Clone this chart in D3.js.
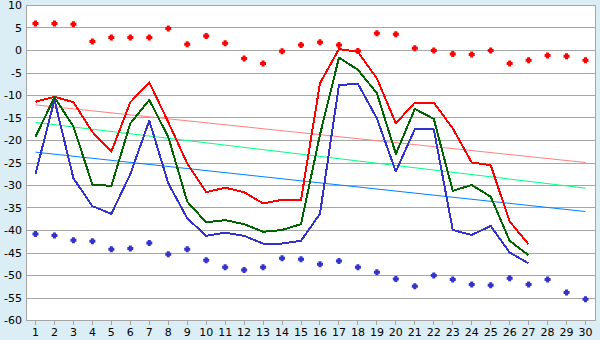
<!DOCTYPE html>
<html>
<head>
<meta charset="utf-8">
<script src="https://cdn.jsdelivr.net/npm/d3@7"></script>
<style>
  html, body { margin: 0; padding: 0; background: #dbeef5; }
  svg { display: block; }
  text { font-family: "DejaVu Sans", Verdana, sans-serif; font-size: 11px; fill: #000; }
</style>
</head>
<body>
<svg id="chart" width="600" height="340"></svg>
<script>
// Days of the month
const categories = d3.range(1, 31).map(String);

// Daily maximum markers (top row) and minimum markers (bottom row)
const maxMarks = [5.9, 5.9, 5.7, 1.9, 2.8, 2.8, 2.8, 4.8, 1.3, 3.1,
                  1.5, -1.9, -3.0, -0.3, 1.1, 1.7, 1.1, -0.2, 3.7, 3.5,
                  0.4, -0.1, -0.9, -1.0, -0.1, -3.0, -2.3, -1.2, -1.4, -2.3];
const minMarks = [-40.9, -41.2, -42.3, -42.5, -44.3, -44.1, -42.9, -45.4, -44.3, -46.7,
                  -48.3, -48.9, -48.3, -46.3, -46.5, -47.6, -46.9, -48.3, -49.4, -50.9,
                  -52.5, -50.1, -51.0, -52.1, -52.3, -50.7, -52.1, -51.0, -53.9, -55.4];

// Measured series (days 1–27)
const redSeries = [-11.5, -10.4, -11.6, -18.2, -22.6, -11.6, -7.2, -16.0, -25.2, -31.6,
                   -30.6, -31.6, -34.1, -33.3, -33.3, -7.4, 0.2, -0.4, -6.3, -16.3,
                   -11.7, -11.7, -17.4, -25.0, -25.6, -38.1, -43.2];
const greenSeries = [-19.3, -10.5, -17.0, -29.9, -30.2, -16.3, -11.1, -19.3, -33.7, -38.3,
                     -37.8, -38.7, -40.4, -40.0, -38.7, -18.8, -1.7, -4.4, -9.6, -23.1,
                     -13.1, -15.3, -31.3, -30.0, -32.6, -42.4, -45.6];
const blueSeries = [-27.6, -11.1, -28.5, -34.7, -36.4, -27.6, -15.7, -29.6, -37.4, -41.3,
                    -40.6, -41.3, -43.0, -43.0, -42.4, -36.4, -7.8, -7.5, -15.2, -27.0,
                    -17.6, -17.6, -40.0, -41.1, -39.1, -45.0, -47.4];

// Trend lines: value on day 1 and on day 30
const trendDays = ["1", "30"];
const redTrend = [-12.2, -25.0];
const greenTrend = [-16.1, -30.7];
const blueTrend = [-22.7, -35.9];

// Y axis
const yTicks = [10, 5, 0, -5, -10, -15, -20, -25, -30, -35, -40, -45, -50, -55, -60];
const yTickLabels = ["10", "5", "0", "-5", "-10", "-15", "-20", "-25", "-30", "-35", "-40", "-45", "-50", "-55", "-60"];

const svg = d3.select("#chart");
const plotLeft = 26, plotRight = 595, plotTop = 5, plotBottom = 320;

const x = d3.scaleBand().domain(categories).range([plotLeft, plotRight]).padding(0);
const cx = d => x(d) + x.bandwidth() / 2;
const y = d3.scaleLinear().domain([-60, 10]).range([plotBottom, plotTop]);

// Plot background
svg.append("rect")
  .attr("x", plotLeft).attr("y", plotTop)
  .attr("width", plotRight - plotLeft).attr("height", plotBottom - plotTop)
  .attr("fill", "#fff");

// Horizontal grid lines
svg.append("g")
  .selectAll("line")
  .data(yTicks)
  .join("line")
  .attr("x1", plotLeft).attr("x2", plotRight)
  .attr("y1", d => Math.round(y(d)) + 0.5).attr("y2", d => Math.round(y(d)) + 0.5)
  .attr("stroke", "#a6a6a6").attr("stroke-width", 1)
  .attr("shape-rendering", "crispEdges");

// Y axis
const yAxis = d3.axisLeft(y)
  .tickValues(yTicks)
  .tickSize(0)
  .tickPadding(4)
  .tickFormat((d, i) => yTickLabels[i]);
const gy = svg.append("g").attr("transform", `translate(${plotLeft},0)`).call(yAxis);
gy.select(".domain").attr("stroke", "#a6a6a6").attr("shape-rendering", "crispEdges");
gy.selectAll("text").style("font-family", "DejaVu Sans, sans-serif").style("font-size", "11px").attr("fill", "#000");

// Right border
svg.append("line")
  .attr("x1", plotRight + 0.5).attr("x2", plotRight + 0.5)
  .attr("y1", plotTop).attr("y2", plotBottom)
  .attr("stroke", "#a6a6a6").attr("shape-rendering", "crispEdges");

// X axis
const xAxis = d3.axisBottom(x).tickSizeOuter(0).tickSizeInner(5).tickPadding(3);
const gx = svg.append("g").attr("transform", `translate(0,${plotBottom})`).call(xAxis);
gx.select(".domain").attr("stroke", "#a6a6a6").attr("shape-rendering", "crispEdges");
gx.selectAll(".tick line").attr("stroke", "#a6a6a6").attr("shape-rendering", "crispEdges");
gx.selectAll("text").style("font-family", "DejaVu Sans, sans-serif").style("font-size", "11px").attr("fill", "#000");

// Trend lines
const trendLine = d3.line().x((d, i) => cx(trendDays[i])).y(d => y(d));
[[redTrend, "#ff8080"], [greenTrend, "#00ff80"], [blueTrend, "#0080ff"]].forEach(([vals, color]) => {
  svg.append("path")
    .attr("d", trendLine(vals))
    .attr("fill", "none")
    .attr("stroke", color)
    .attr("stroke-width", 1);
});

// Measured series
const seriesLine = d3.line().x((d, i) => cx(categories[i])).y(d => y(d));
[[redSeries, "#ff0000"], [greenSeries, "#006400"], [blueSeries, "#3333cc"]].forEach(([vals, color]) => {
  svg.append("path")
    .attr("d", seriesLine(vals))
    .attr("fill", "none")
    .attr("stroke", color)
    .attr("stroke-width", 2)
    .attr("stroke-linejoin", "round")
    .attr("shape-rendering", "crispEdges");
});

// Markers: small blunt cross
const crossMark = {
  draw(context) {
    const a = 3, b = 1.5;
    context.moveTo(-b, -a);
    context.lineTo(b, -a);
    context.lineTo(b, -b);
    context.lineTo(a, -b);
    context.lineTo(a, b);
    context.lineTo(b, b);
    context.lineTo(b, a);
    context.lineTo(-b, a);
    context.lineTo(-b, b);
    context.lineTo(-a, b);
    context.lineTo(-a, -b);
    context.lineTo(-b, -b);
    context.closePath();
  }
};
const marker = d3.symbol().type(crossMark);
[[maxMarks, "#ff0000"], [minMarks, "#3333cc"]].forEach(([vals, color]) => {
  svg.append("g")
    .selectAll("path")
    .data(vals)
    .join("path")
    .attr("transform", (d, i) => `translate(${cx(categories[i])},${y(d)})`)
    .attr("d", marker)
    .attr("fill", color);
});
</script>
</body>
</html>
